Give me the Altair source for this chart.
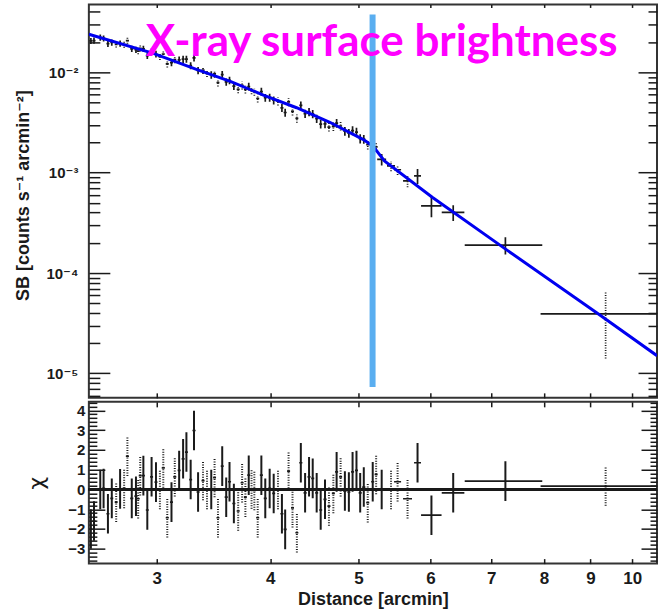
import altair as alt
import pandas as pd

# ---------------- data ----------------
dist = [2.540, 2.560, 2.601, 2.623, 2.652, 2.678, 2.708, 2.735, 2.763, 2.786,
        2.817, 2.847, 2.863, 2.878, 2.901, 2.930, 2.962, 2.995, 3.025, 3.051,
        3.082, 3.115, 3.141, 3.176, 3.208, 3.235, 3.270, 3.298, 3.332, 3.374,
        3.408, 3.445, 3.474, 3.504, 3.542, 3.578, 3.608, 3.648, 3.688, 3.725,
        3.756, 3.788, 3.815, 3.842, 3.875, 3.911, 3.950, 3.994, 4.035, 4.079,
        4.120, 4.154, 4.190, 4.232, 4.279, 4.322, 4.369, 4.413, 4.454, 4.499,
        4.545, 4.595, 4.641, 4.693, 4.732, 4.780, 4.832, 4.881, 4.927, 4.976,
        5.023, 5.069, 5.120, 5.185, 5.230, 5.304, 5.431, 5.522, 5.663, 5.808,
        6.016, 6.357, 7.255, 9.351]

half_width = [0.010] * 8 + [0.011] * 10 + [0.012] * 9 + [0.013] * 8 + [0.014] * 7 + \
             [0.015] * 7 + [0.016] * 6 + [0.017] * 6 + [0.018] * 5 + [0.019] * 5 + [0.020] * 4 + \
             [0.060, 0.055, 0.049, 0.064, 0.051, 0.156, 0.182, 0.71, 1.42]

sb = [0.02061, 0.02075, 0.02223, 0.02178, 0.01931, 0.01986, 0.01901, 0.01936, 0.01887, 0.02075,
      0.01717, 0.01679, 0.01626, 0.01738, 0.01717, 0.01466, 0.01607, 0.01524, 0.01437, 0.01523,
      0.01213, 0.01247, 0.01343, 0.01330, 0.01352, 0.01354, 0.01169, 0.01391, 0.01045, 0.01051,
      0.00979, 0.00944, 0.00966, 0.00791, 0.00950, 0.00802, 0.00833, 0.00729, 0.00678, 0.00741,
      0.00675, 0.00722, 0.00662, 0.00641, 0.00549, 0.00644, 0.00558, 0.00560, 0.00527, 0.00515,
      0.00443, 0.00398, 0.00507, 0.00409, 0.00348, 0.00468, 0.00388, 0.00403, 0.00385, 0.00345,
      0.00305, 0.00307, 0.00285, 0.00290, 0.00312, 0.00292, 0.00259, 0.00248, 0.00263, 0.00254,
      0.00218, 0.00216, 0.00190, 0.00192, 0.00181, 0.00136, 0.00117, 0.00107, 0.000828, 0.000929,
      0.000468, 0.000402, 0.000190, 0.0000391]

sb_err = [0.0014, 0.0015, 0.0016, 0.0015, 0.0014, 0.0014, 0.0013, 0.0014, 0.0013, 0.0015,
          0.0012, 0.0012, 0.0011, 0.0012, 0.0012, 0.0011, 0.0013, 0.0012, 0.0011, 0.0012,
          0.00095, 0.00098, 0.0011, 0.0011, 0.0011, 0.0011, 0.00094, 0.0011, 0.00085, 0.00087,
          0.00081, 0.00079, 0.00081, 0.00067, 0.00081, 0.00068, 0.00071, 0.00063, 0.00059, 0.00065,
          0.00059, 0.00064, 0.00058, 0.00057, 0.00049, 0.00058, 0.00050, 0.00051, 0.00048, 0.00047,
          0.00041, 0.00037, 0.00047, 0.00038, 0.00033, 0.00044, 0.00037, 0.00038, 0.00037, 0.00033,
          0.00030, 0.00030, 0.00028, 0.00029, 0.00031, 0.00029, 0.00026, 0.00025, 0.00027, 0.00026,
          0.00023, 0.00022, 0.00020, 0.00020, 0.00019, 0.00018, 0.000135, 0.000123, 0.00011, 0.000158,
          0.000109, 0.000072, 0.000037, 0.000025]

chi = [-2.0, -1.6, 0.0, 0.05, -1.23, -0.45, -0.64, 0.03, 0.05, 1.68,
       -0.45, -0.34, -0.47, 0.7, 0.7, -1.04, 0.64, 0.37, 0.0, 1.09,
       -1.43, -0.64, 0.64, 0.96, 1.55, 1.89, 0.5, 2.98, -0.13, 0.45,
       0.0, 0.0, 0.6, -1.43, 1.18, -0.39, 0.39, -0.71, -1.09, 0.34,
       -0.39, 0.72, 0.03, -0.05, -1.43, 0.72, -0.45, 0.05, -0.2, 0.0,
       -1.23, -2.02, 0.93, -0.93, -2.19, 1.35, -0.17, 0.64, 0.56, -0.17,
       -1.04, -0.5, -0.84, -0.2, 0.89, 0.64, -0.08, -0.13, 0.89, 0.96,
       -0.17, 0.12, -0.67, 0.39, 0.76, 0.0, 0.0, 0.39, -0.47, 1.35,
       -1.3, -0.17, 0.42, 0.17]

style_codes = "SSSSSSDSDD" "SSDDSSSSDD" "DSDSSSSSSD" "DSDDSSSSDD" "DSDDDSSSSD" \
              "SSDDDSSSSS" "SSDDSDSSSS" "SSDSDSDDDS" "SSSD"
line_style = ["dotted" if c == "D" else "solid" for c in style_codes]

model_dist = [2.527, 2.554, 2.975, 3.318, 3.615, 3.931, 4.276, 4.651, 5.058, 5.186,
              5.341, 6.028, 7.259, 9.182, 10.65]
model_sb = [0.02399, 0.02333, 0.01545, 0.01072, 0.00813, 0.00594, 0.00444, 0.00318, 0.00215, 0.00185,
            0.00131, 0.000570, 0.000173, 0.0000391, 0.0000150]

front_dist = [5.183]
front_sb_top = [0.0378]
front_sb_bottom = [0.0000073]

x_tick_values = [3, 4, 5, 6, 7, 8, 9, 10]
sb_label_values = [1e-2, 1e-3, 1e-4, 1e-5]
chi_label_values = [-3, -2, -1, 0, 1, 2, 3, 4]

# ---------------- layout ----------------
W = 569
H_TOP = 394
H_BOT = 162
X_DOMAIN = [2.527, 10.65]
SB_DOMAIN = [5.7e-6, 0.0475]
CHI_DOMAIN = [-3.75, 4.43]
FONT = "Liberation Sans, DejaVu Sans, sans-serif"
INK = "#1a1a1a"

sb_tick_values = [k * 10.0 ** e for e in range(-6, -1) for k in range(1, 10)
                  if SB_DOMAIN[0] <= k * 10.0 ** e <= SB_DOMAIN[1]]
chi_tick_values = [round(-3.6 + 0.2 * i, 1) for i in range(41) if -3.6 + 0.2 * i <= 4.41]

df = pd.DataFrame({"dist": dist, "hw": half_width, "sb": sb, "err": sb_err,
                   "chi": chi, "style": line_style})
df["d_lo"] = df["dist"] - df["hw"]
df["d_hi"] = df["dist"] + df["hw"]
df["sb_lo"] = df["sb"] - df["err"]
df["sb_hi"] = df["sb"] + df["err"]
df["chi_lo"] = df["chi"] - 1.0
df["chi_hi"] = df["chi"] + 1.0

model_df = pd.DataFrame({"d": model_dist, "sb": model_sb})
front_df = pd.DataFrame({"d": front_dist, "top": front_sb_top, "bottom": front_sb_bottom})

xs = alt.Scale(type="log", domain=X_DOMAIN, nice=False)
ys_top = alt.Scale(type="log", domain=SB_DOMAIN, nice=False)
ys_bot = alt.Scale(domain=CHI_DOMAIN, nice=False, zero=False)

LOG_MAJOR = "abs(log(datum.value)/LN10 - round(log(datum.value)/LN10)) < 0.000001"
LIN_MAJOR = "abs(datum.value - round(datum.value)) < 0.000001"


def inward(orient, offset, values, test, big, small):
    return alt.Axis(orient=orient, offset=offset, values=values, labels=False,
                    domain=False, grid=False, title=None, tickColor=INK, tickWidth=1.5,
                    tickSize={"condition": {"test": test, "value": big}, "value": small})


def inward_x(orient, offset, size):
    return alt.Axis(orient=orient, offset=offset, values=x_tick_values, labels=False,
                    domain=False, grid=False, title=None, tickColor=INK, tickWidth=1.5,
                    tickSize=size)


dash = alt.StrokeDash("style:N", scale=alt.Scale(domain=["solid", "dotted"],
                                                 range=[[1, 0], [1, 1.5]]), legend=None)

# ---------------- top panel ----------------
ax_sb_labels = alt.Axis(orient="left", values=sb_label_values, ticks=False, domain=False,
                        grid=False,
                        labelExpr="datum.value > 0.005 ? '10⁻²' : datum.value > 0.0005 ? '10⁻³' : "
                                  "datum.value > 0.00005 ? '10⁻⁴' : '10⁻⁵'",
                        labelFont=FONT, labelFontSize=15, labelFontWeight="bold",
                        labelColor=INK, labelPadding=11,
                        title="SB [counts s⁻¹ arcmin⁻²]", titleFont=FONT, titleFontSize=18,
                        titleFontWeight="bold", titleColor=INK, titleX=-56, titleY=191)

top_xbars = alt.Chart(df).mark_rule(color=INK, strokeWidth=1.7, clip=True).encode(
    x=alt.X("d_lo:Q", scale=xs, axis=inward_x("top", -H_TOP, 5)),
    x2="d_hi:Q",
    y=alt.Y("sb:Q", scale=ys_top, axis=ax_sb_labels),
)
top_ybars = alt.Chart(df).mark_rule(color=INK, strokeWidth=1.7, clip=True).encode(
    x=alt.X("dist:Q", scale=xs, axis=inward_x("bottom", -H_TOP, 3)),
    y=alt.Y("sb_lo:Q", scale=ys_top, axis=inward("right", -W, sb_tick_values, LOG_MAJOR, 21, 11)),
    y2="sb_hi:Q",
    strokeDash=dash,
)
top_model = alt.Chart(model_df).mark_line(color="#0000f0", strokeWidth=3, clip=True).encode(
    x=alt.X("d:Q", scale=xs, axis=None),
    y=alt.Y("sb:Q", scale=ys_top, axis=inward("left", -W, sb_tick_values, LOG_MAJOR, 19, 9)),
)
top_front = alt.Chart(front_df).mark_rule(color="#5aaef0", strokeWidth=6).encode(
    x=alt.X("d:Q", scale=xs, axis=None),
    y=alt.Y("top:Q", scale=ys_top, axis=None),
    y2="bottom:Q",
)

top = alt.layer(top_xbars, top_ybars, top_model, top_front).resolve_axis(
    x="independent", y="independent"
).properties(
    width=W, height=H_TOP,
    title=alt.TitleParams("X-ray surface brightness", font="Lato", fontSize=44,
                          fontWeight="bold", color="#ff00ff", orient="none",
                          anchor="start", align="left", baseline="alphabetic",
                          offset=0, dx=57, dy=52),
)

# ---------------- bottom panel ----------------
ax_chi_labels = alt.Axis(orient="left", values=chi_label_values, ticks=False, domain=False,
                         grid=False, format="d", labelFont=FONT, labelFontSize=15,
                         labelFontWeight="bold", labelColor=INK, labelPadding=4,
                         title="χ", titleFont="DejaVu Sans", titleFontSize=22,
                         titleFontWeight="normal", titleColor=INK, titleX=-40, titleY=81)
ax_x_labels = alt.Axis(orient="bottom", values=x_tick_values, ticks=False, domain=False,
                       grid=False, format="d", labelFont=FONT, labelFontSize=17,
                       labelFontWeight="bold", labelColor=INK, labelPadding=7,
                       title="Distance [arcmin]", titleFont=FONT, titleFontSize=18,
                       titleFontWeight="bold", titleColor=INK, titlePadding=4)

bot_xbars = alt.Chart(df).mark_rule(color=INK, strokeWidth=1.7, clip=True).encode(
    x=alt.X("d_lo:Q", scale=xs, axis=ax_x_labels),
    x2="d_hi:Q",
    y=alt.Y("chi:Q", scale=ys_bot, axis=ax_chi_labels),
)
bot_ybars = alt.Chart(df).mark_rule(color=INK, strokeWidth=2.0, clip=True).encode(
    x=alt.X("dist:Q", scale=xs, axis=inward_x("top", -H_BOT, 5)),
    y=alt.Y("chi_lo:Q", scale=ys_bot, axis=inward("right", -W, chi_tick_values, LIN_MAJOR, 16, 8)),
    y2="chi_hi:Q",
    strokeDash=dash,
)
bot_ghost = alt.Chart(df).mark_point(opacity=0).encode(
    x=alt.X("dist:Q", scale=xs, axis=inward_x("bottom", -H_BOT, 5)),
    y=alt.Y("chi:Q", scale=ys_bot, axis=inward("left", -W, chi_tick_values, LIN_MAJOR, 16, 7)),
)
bot_zero = alt.Chart(df).mark_rule(color=INK, strokeWidth=1.5).encode(
    y=alt.Y(datum=0, scale=ys_bot, axis=None),
)

bottom = alt.layer(bot_xbars, bot_ybars, bot_ghost, bot_zero).resolve_axis(
    x="independent", y="independent"
).properties(width=W, height=H_BOT)

chart = alt.vconcat(top, bottom, spacing=0).properties(
    padding={"left": 14, "top": 2, "right": 0, "bottom": 0},
    background="white",
).configure_view(stroke="#333", strokeWidth=2)

chart.save("out.html", embed_options={"renderer": "svg", "actions": False})
